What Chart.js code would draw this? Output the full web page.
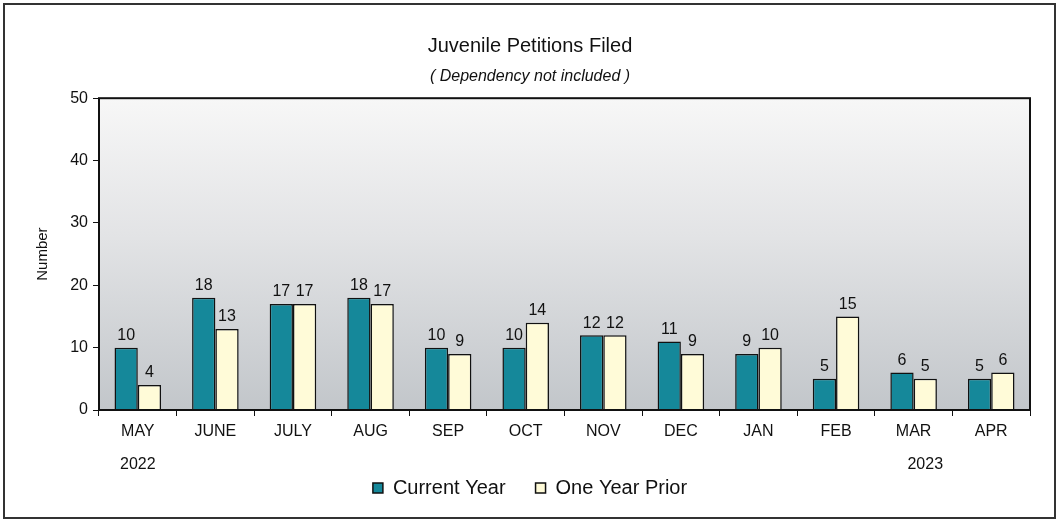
<!DOCTYPE html>
<html>
<head>
<meta charset="utf-8">
<script src="https://cdn.jsdelivr.net/npm/chart.js@4.4.0/dist/chart.umd.min.js"></script>
<style>
  body { margin: 0; background: #fff; }
  #wrap { position: relative; width: 1058px; height: 522px; }
  #frame { position: absolute; left: 3px; top: 3px; width: 1049px; height: 512px; border: 2px solid #333; box-sizing: content-box; pointer-events: none; }
  canvas { position: absolute; left: 0; top: 0; }
</style>
</head>
<body>
<div id="wrap">
  <canvas id="petitionsChart" width="1058" height="522"></canvas>
  <div id="frame"></div>
</div>
<script>
// Juvenile petitions filed, by month
const months = ['MAY', 'JUNE', 'JULY', 'AUG', 'SEP', 'OCT', 'NOV', 'DEC', 'JAN', 'FEB', 'MAR', 'APR'];
const currentYear = [10, 18, 17, 18, 10, 10, 12, 11, 9, 5, 6, 5];
const oneYearPrior = [4, 13, 17, 17, 9, 14, 12, 9, 10, 15, 5, 6];
const yTicks = [0, 10, 20, 30, 40, 50];
const yearLabels = [
    { index: 0, text: '2022', shift: 0 },
    { index: 11, text: '2023', shift: -0.85 }
];

const FONT = "'Liberation Sans', Arial, sans-serif";

// gray gradient behind the bars + box around plot
const plotBox = {
    id: 'plotBox',
    beforeDraw(chart) {
        const { ctx, chartArea: a } = chart;
        const g = ctx.createLinearGradient(0, a.top, 0, a.bottom);
        g.addColorStop(0, '#f7f7f7');
        g.addColorStop(0.45, '#e2e3e5');
        g.addColorStop(1, '#c2c6ca');
        ctx.save();
        ctx.fillStyle = g;
        ctx.fillRect(a.left, a.top, a.right - a.left, a.bottom - a.top);
        ctx.restore();
    },
    afterDraw(chart) {
        const { ctx, chartArea: a } = chart;
        ctx.save();
        ctx.strokeStyle = '#111';
        ctx.lineWidth = 2;
        ctx.strokeRect(a.left, a.top, a.right - a.left, a.bottom - a.top);
        ctx.restore();
    }
};

// numbers over the bars
const barValues = {
    id: 'barValues',
    afterDatasetsDraw(chart) {
        const { ctx } = chart;
        ctx.save();
        ctx.font = '16px ' + FONT;
        ctx.fillStyle = '#111';
        ctx.textAlign = 'center';
        ctx.textBaseline = 'bottom';
        chart.data.datasets.forEach((ds, i) => {
            chart.getDatasetMeta(i).data.forEach((bar, j) => {
                ctx.fillText(ds.data[j], bar.x, bar.y - 4);
            });
        });
        ctx.restore();
    }
};

// year under first / last month
const yearText = {
    id: 'yearText',
    afterDraw(chart) {
        const { ctx } = chart;
        const x = chart.scales.x;
        const step = x.getPixelForValue(1) - x.getPixelForValue(0);
        ctx.save();
        ctx.font = '16px ' + FONT;
        ctx.fillStyle = '#111';
        ctx.textAlign = 'center';
        ctx.textBaseline = 'middle';
        yearLabels.forEach(y => {
            ctx.fillText(y.text, x.getPixelForValue(y.index) + y.shift * step, x.top + 55);
        });
        ctx.restore();
    }
};

const petitionsData = {
    labels: months,
    datasets: [
        {
            label: 'Current Year',
            data: currentYear,
            backgroundColor: '#15889a',
            borderColor: '#111',
            borderWidth: 1.5
        },
        {
            label: 'One Year Prior',
            data: oneYearPrior,
            backgroundColor: '#fffbd8',
            borderColor: '#111',
            borderWidth: 1.5
        }
    ]
};

const petitionsConfig = {
    type: 'bar',
    data: petitionsData,
    options: {
        responsive: false,
        animation: false,
        categoryPercentage: 0.6,
        barPercentage: 1,
        layout: {
            padding: { top: 34, left: 30, right: 28, bottom: 14 }
        },
        scales: {
            x: {
                grid: { display: true, drawOnChartArea: false, color: '#111', tickLength: 6 },
                border: { display: false },
                ticks: { color: '#111', font: { family: FONT, size: 16 }, padding: 6 },
                afterFit(scale) { scale.height = 38; }
            },
            y: {
                min: 0,
                max: 50,
                afterBuildTicks(scale) { scale.ticks = yTicks.map(v => ({ value: v })); },
                grid: { display: true, drawOnChartArea: false, color: '#111', tickLength: 6 },
                border: { display: false },
                ticks: { color: '#111', font: { family: FONT, size: 16 }, padding: 5 },
                title: { display: true, text: 'Number', color: '#111', font: { family: FONT, size: 15 }, padding: { bottom: 10 } },
                afterFit(scale) { scale.width = 69; }
            }
        },
        plugins: {
            title: {
                display: true,
                text: 'Juvenile Petitions Filed',
                color: '#111',
                font: { family: FONT, size: 20, weight: 'normal' },
                padding: { top: 0, bottom: 9 }
            },
            subtitle: {
                display: true,
                text: '( Dependency not included )',
                color: '#111',
                font: { family: FONT, size: 16, style: 'italic' },
                padding: { bottom: 12 }
            },
            legend: {
                display: true,
                position: 'bottom',
                labels: {
                    color: '#111',
                    font: { family: FONT, size: 20 },
                    boxWidth: 10,
                    boxHeight: 10,
                    padding: 30
                }
            },
            tooltip: { enabled: false }
        }
    },
    plugins: [plotBox, barValues, yearText]
};

const petitionsElement = document.querySelector('#petitionsChart');
const petitionsChart = new Chart(petitionsElement, petitionsConfig);
</script>
</body>
</html>
